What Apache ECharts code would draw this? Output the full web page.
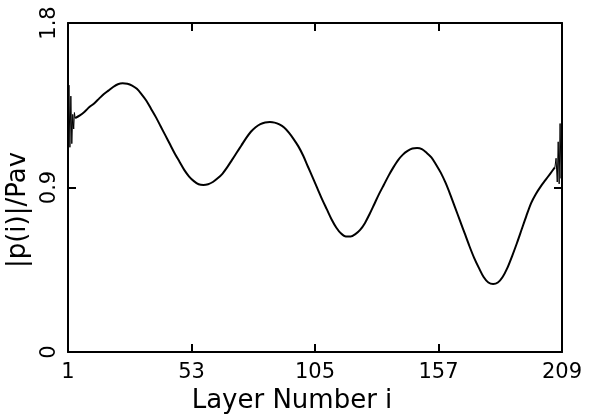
<!DOCTYPE html>
<html>
<head>
<meta charset="utf-8">
<script src="https://cdn.jsdelivr.net/npm/echarts@6/dist/echarts.min.js"></script>
<style>html,body{margin:0;padding:0;background:#fff}#c{width:593px;height:415px}</style>
</head>
<body>
<div id="c"></div>
<script>
var xTicks = [1, 53, 105, 157, 209];
var yTicks = [0, 0.9, 1.8];
var xName = 'Layer Number i';
var yName = '|p(i)|/Pav';

var leftSpike = [[1, 1.15], [1.4, 1.46], [1.8, 1.12], [2.2, 1.40], [2.6, 1.14], [3.0, 1.30], [3.4, 1.22], [3.7, 1.31], [4, 1.28]];
var layers = [4, 6, 8, 10, 12, 14, 16, 18, 20, 22, 24, 26, 28, 30, 32, 34, 36, 38, 40, 42, 44, 46, 48, 50,
  52, 54, 56, 58, 60, 62, 64, 66, 68, 70, 72, 74, 76, 78, 80, 82, 84, 86, 88, 90, 92, 94, 96, 98, 100,
  102, 104, 106, 108, 110, 112, 114, 116, 118, 120, 122, 124, 126, 128, 130, 132, 134, 136, 138, 140,
  142, 144, 146, 148, 150, 152, 154, 156, 158, 160, 162, 164, 166, 168, 170, 172, 174, 176, 178, 180,
  182, 184, 186, 188, 190, 192, 194, 196, 198, 200, 202, 204, 206];
var ratio = [1.28, 1.295, 1.315, 1.34, 1.36, 1.385, 1.41, 1.43, 1.45, 1.465, 1.47, 1.468, 1.458, 1.44,
  1.41, 1.375, 1.33, 1.285, 1.235, 1.185, 1.135, 1.085, 1.04, 0.995, 0.96, 0.935, 0.918, 0.914, 0.918,
  0.93, 0.95, 0.975, 1.01, 1.05, 1.09, 1.13, 1.17, 1.205, 1.23, 1.247, 1.256, 1.258, 1.255, 1.245, 1.228,
  1.2, 1.165, 1.125, 1.075, 1.015, 0.955, 0.895, 0.835, 0.78, 0.725, 0.68, 0.648, 0.632, 0.632, 0.645,
  0.668, 0.705, 0.755, 0.81, 0.865, 0.915, 0.965, 1.01, 1.05, 1.08, 1.1, 1.113, 1.116, 1.11, 1.09, 1.065,
  1.025, 0.98, 0.925, 0.86, 0.79, 0.72, 0.65, 0.58, 0.515, 0.46, 0.41, 0.38, 0.372, 0.38, 0.41, 0.46,
  0.525, 0.595, 0.67, 0.745, 0.815, 0.865, 0.905, 0.94, 0.975, 1.01];
var rightSpike = [[206, 1.01], [206.5, 1.06], [207, 0.93], [207.4, 1.15], [207.8, 0.92], [208.2, 1.25], [208.6, 0.95], [209, 1.10]];

var mainCurve = layers.map(function (l, k) { return [l, ratio[k]]; });

var font = 'DejaVu Sans';
var chart = echarts.init(document.getElementById('c'), null, {renderer: 'canvas'});
var axisLine = {show: true, onZero: false, lineStyle: {color: '#000', width: 2}};
var tickStyle = {show: true, inside: true, length: 8, lineStyle: {color: '#000', width: 2}};
chart.setOption({
  animation: false,
  backgroundColor: '#fff',
  grid: {left: 68, right: 31, top: 23, bottom: 63, containLabel: false, outerBoundsMode: 'none'},
  xAxis: [{
    type: 'value', min: 1, max: 209, position: 'bottom',
    axisLine: axisLine,
    axisTick: Object.assign({customValues: xTicks}, tickStyle),
    axisLabel: {customValues: xTicks, margin: 10, color: '#000', fontFamily: font, fontSize: 21},
    splitLine: {show: false},
    name: xName, nameLocation: 'middle', nameGap: 28,
    nameTextStyle: {color: '#000', fontFamily: font, fontSize: 26, padding: [0, 46, 0, 0]}
  }, {
    type: 'value', min: 1, max: 209, position: 'top',
    axisLine: axisLine,
    axisTick: Object.assign({customValues: xTicks}, tickStyle),
    axisLabel: {show: false},
    splitLine: {show: false}
  }],
  yAxis: [{
    type: 'value', min: 0, max: 1.8, interval: 0.9, position: 'left',
    axisLine: axisLine,
    axisTick: tickStyle,
    axisLabel: {rotate: 90, margin: 8, color: '#000', fontFamily: font, fontSize: 21},
    splitLine: {show: false},
    name: yName, nameLocation: 'middle', nameGap: 31, nameRotate: 90,
    nameTextStyle: {color: '#000', fontFamily: font, fontSize: 26, padding: [0, 45, 0, 0]}
  }, {
    type: 'value', min: 0, max: 1.8, interval: 0.9, position: 'right',
    axisLine: axisLine,
    axisTick: tickStyle,
    axisLabel: {show: false},
    splitLine: {show: false}
  }],
  series: [{
    type: 'line', data: leftSpike, showSymbol: false, smooth: false,
    lineStyle: {color: '#000', width: 1}
  }, {
    type: 'line', data: mainCurve, showSymbol: false, smooth: 0.3,
    lineStyle: {color: '#000', width: 2}
  }, {
    type: 'line', data: rightSpike, showSymbol: false, smooth: false,
    lineStyle: {color: '#000', width: 1}
  }]
});
</script>
</body>
</html>
